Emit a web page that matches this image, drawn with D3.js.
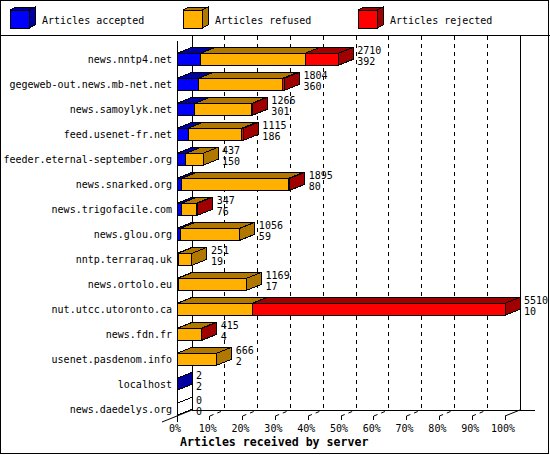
<!DOCTYPE html>
<html>
<head>
<meta charset="utf-8">
<script src="https://cdn.jsdelivr.net/npm/d3@7"></script>
<style>
  body { margin: 0; background: #fff; }
  text { font-family: "DejaVu Sans Mono", monospace; font-size: 10px; fill: #000; }
</style>
</head>
<body>
<svg id="chart" width="550" height="455"></svg>
<script>
var servers = ["news.nntp4.net", "gegeweb-out.news.mb-net.net", "news.samoylyk.net",
  "feed.usenet-fr.net", "feeder.eternal-september.org", "news.snarked.org",
  "news.trigofacile.com", "news.glou.org", "nntp.terraraq.uk", "news.ortolo.eu",
  "nut.utcc.utoronto.ca", "news.fdn.fr", "usenet.pasdenom.info", "localhost",
  "news.daedelys.org"];
var accepted = [392, 360, 301, 186, 150, 80, 76, 59, 19, 17, 10, 4, 2, 2, 0];
var refused  = [1760, 1416, 957, 899, 287, 1795, 246, 997, 232, 1152, 1255, 401, 664, 0, 0];
var rejected = [558, 28, 8, 30, 0, 20, 25, 0, 0, 0, 4245, 10, 0, 0, 0];
var seriesNames = ["Articles accepted", "Articles refused", "Articles rejected"];
var percentTicks = [0, 10, 20, 30, 40, 50, 60, 70, 80, 90, 100];
var axisTitle = "Articles received by server";

var frontColors = ["#0000ff", "#ffb000", "#ff0000"];
var sideColors  = ["#0000a0", "#b07800", "#a00000"];

var series = [accepted, refused, rejected];
var totals = servers.map(function(s, i) { return accepted[i] + refused[i] + rejected[i]; });

var dx = 15, dy = 6;
var floorY = 410;

var svg = d3.select("#chart");

var x = d3.scaleLinear().domain([0, d3.max(totals)]).range([177, 505]);
var xp = d3.scaleLinear().domain([0, 100]).range([177, 505]);
var y = d3.scaleBand().domain(servers).range([46.8, 421.8])
  .paddingInner(0.52).paddingOuter(0.26);

// frame + legend separator
svg.append("rect").attr("x", 0.5).attr("y", 0.5).attr("width", 548).attr("height", 453)
  .attr("fill", "#fff").attr("stroke", "#000");
svg.append("line").attr("x1", 0).attr("x2", 550).attr("y1", 35.5).attr("y2", 35.5)
  .attr("stroke", "#000");

// legend cubes
var legendX = [10, 183, 358];
var legend = svg.append("g").attr("class", "legend").attr("shape-rendering", "crispEdges");
seriesNames.forEach(function(name, k) {
  var lx = legendX[k], ly = 10, w = 19, h = 18, ldx = 6, ldy = 3;
  legend.append("polygon")
    .attr("points", [[lx, ly], [lx + ldx, ly - ldy], [lx + w + ldx, ly - ldy], [lx + w, ly]].join(" "))
    .attr("fill", sideColors[k]).attr("stroke", "#000");
  legend.append("polygon")
    .attr("points", [[lx + w, ly], [lx + w + ldx, ly - ldy], [lx + w + ldx, ly + h - ldy], [lx + w, ly + h]].join(" "))
    .attr("fill", sideColors[k]).attr("stroke", "#000");
  legend.append("rect").attr("x", lx).attr("y", ly).attr("width", w).attr("height", h)
    .attr("fill", frontColors[k]).attr("stroke", "#000");
  legend.append("text").attr("x", lx + 32).attr("y", 24).text(name);
});

// back walls, grid and floor
var grid = svg.append("g").attr("class", "grid").attr("stroke", "#000").attr("shape-rendering", "crispEdges");
grid.append("line").attr("x1", x(0) + dx).attr("x2", x(0) + dx).attr("y1", 36).attr("y2", floorY);
grid.append("line").attr("x1", x.range()[1] + dx).attr("x2", x.range()[1] + dx).attr("y1", 36).attr("y2", floorY);
grid.selectAll(".gl")
  .data(percentTicks.slice(1, -1))
  .enter().append("line")
  .attr("class", "gl")
  .attr("x1", function(d) { return xp(d) + dx; })
  .attr("x2", function(d) { return xp(d) + dx; })
  .attr("y1", 36).attr("y2", floorY)
  .attr("stroke-dasharray", "4,4");
grid.append("line").attr("x1", x(0) + dx).attr("x2", x.range()[1] + 2 * dx)
  .attr("y1", floorY).attr("y2", floorY);
grid.append("line").attr("x1", x(0) - dx).attr("y1", floorY + 2 * dy)
  .attr("x2", x(0) + dx).attr("y2", floorY)
  .attr("shape-rendering", "auto");
grid.append("line").attr("x1", x(0)).attr("x2", x(0)).attr("y1", 41).attr("y2", floorY + 2 * dy);

// floor ticks
var ticks = svg.append("g").attr("class", "ticks").attr("stroke", "#000");
ticks.selectAll(".tv")
  .data(percentTicks.slice(1))
  .enter().append("line")
  .attr("class", "tv")
  .attr("shape-rendering", "crispEdges")
  .attr("x1", function(d) { return xp(d); })
  .attr("x2", function(d) { return xp(d); })
  .attr("y1", floorY + dy).attr("y2", floorY + dy + 4);
ticks.selectAll(".td")
  .data(percentTicks.slice(1))
  .enter().append("line")
  .attr("class", "td")
  .attr("x1", function(d) { return xp(d); })
  .attr("y1", floorY + dy)
  .attr("x2", function(d) { return xp(d) + dx; })
  .attr("y2", floorY)
  .attr("stroke-dasharray", function(d) { return d === 100 ? null : "4,4"; });

svg.append("g").selectAll("text")
  .data(percentTicks)
  .enter().append("text")
  .attr("x", function(d) { return xp(d) - 2; })
  .attr("y", 432)
  .attr("text-anchor", "middle")
  .text(function(d) { return d + "%"; });

svg.append("text")
  .attr("x", 180).attr("y", 446)
  .style("font-weight", "bold").style("font-size", "11.6px")
  .text(axisTitle);

// bars
var bh = y.bandwidth();
var bars = svg.append("g").attr("class", "bars").attr("stroke", "#000").attr("shape-rendering", "crispEdges");
servers.forEach(function(name, i) {
  var top = y(name);
  var row = bars.append("g").attr("class", "bar-group");
  var cum = 0;
  if (totals[i] === 0) {
    var x0 = x(0);
    row.append("polygon")
      .attr("points", [[x0, top], [x0 + dx, top - dy], [x0 + dx, top + bh - dy], [x0, top + bh]].join(" "))
      .attr("fill", "#fff");
  }
  series.forEach(function(vals, k) {
    var v = vals[i];
    if (v <= 0) return;
    var x0 = x(cum), x1 = x(cum + v);
    cum += v;
    row.append("rect")
      .attr("x", x0).attr("y", top)
      .attr("width", x1 - x0).attr("height", bh)
      .attr("fill", frontColors[k]);
    row.append("polygon")
      .attr("points", [[x0, top], [x0 + dx, top - dy], [x1 + dx, top - dy], [x1, top]].join(" "))
      .attr("fill", sideColors[k]);
    row.append("polygon")
      .attr("points", [[x1, top], [x1 + dx, top - dy], [x1 + dx, top + bh - dy], [x1, top + bh]].join(" "))
      .attr("fill", sideColors[k]);
  });
});

// category labels
svg.append("g").selectAll("text")
  .data(servers)
  .enter().append("text")
  .attr("x", 172)
  .attr("y", function(d) { return y(d) + bh / 2 + 3.5; })
  .attr("text-anchor", "end")
  .text(function(d) { return d; });

// value labels: total and accepted
var vals = svg.append("g").attr("class", "values");
servers.forEach(function(name, i) {
  var c = y(name) + bh / 2;
  var tx = x(totals[i]) + dx + 4;
  vals.append("text").attr("x", tx).attr("y", c - 5).text(totals[i]);
  vals.append("text").attr("x", tx).attr("y", c + 5.5).text(accepted[i]);
});
</script>
</body>
</html>
